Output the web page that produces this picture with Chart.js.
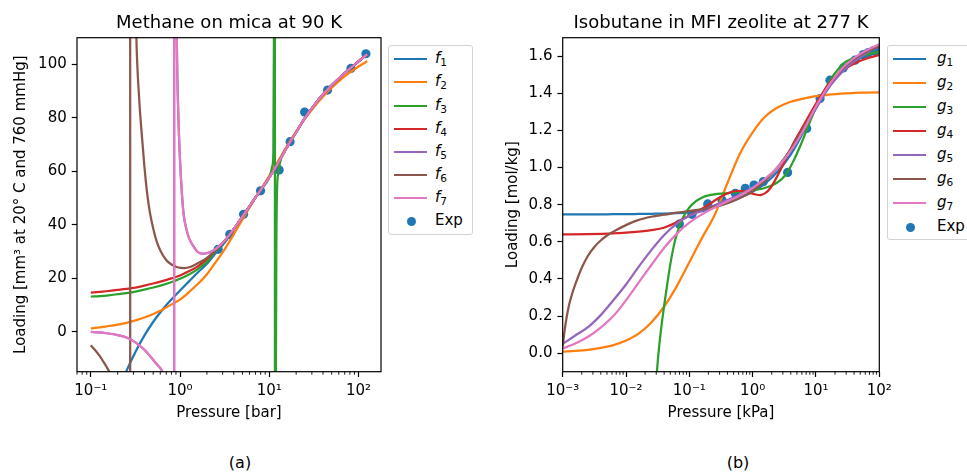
<!DOCTYPE html>
<html>
<head>
<meta charset="utf-8">
<script src="https://cdn.jsdelivr.net/npm/chart.js@4.4.1/dist/chart.umd.min.js"></script>
<style>
  body { margin: 0; background: #fff; font-family: "DejaVu Sans", sans-serif; }
  #wrap { position: relative; width: 967px; height: 473px; overflow: hidden; }
  canvas { position: absolute; top: 0; }
  .legend { position: absolute; top: 45px; border: 1px solid #d3d3d3; border-radius: 3px; background: #fff; font-size: 15px; color: #000; }
  .row { position: absolute; left: 0; height: 20px; width: 100%; }
  .h { position: absolute; left: 5px; top: 9px; width: 33px; height: 2px; }
  .m { position: absolute; left: 17.5px; top: 5.5px; width: 9px; height: 9px; border-radius: 50%; background: #1f77b4; }
  .t { position: absolute; top: -1px; line-height: 20px; white-space: nowrap; }
  .t sub { font-size: 70%; vertical-align: baseline; position: relative; top: 0.3em; }
  .cap { position: absolute; width: 100px; text-align: center; font-size: 16px; line-height: 20px; top: 453px; }
</style>
</head>
<body>
<div id="wrap">
  <canvas id="chartA" width="480" height="430" style="left:0"></canvas>
  <canvas id="chartB" width="487" height="430" style="left:480px"></canvas>
  <div class="legend" id="legA" style="left:388px;width:83px;height:188px"></div>
  <div class="legend" id="legB" style="left:887px;width:110px;height:193px"></div>
  <div class="cap" style="left:190px">(a)</div>
  <div class="cap" style="left:688px">(b)</div>
</div>
<script>
/* isotherm fits */

const COLORS = ['#1f77b4', '#ff7f0e', '#2ca02c', '#d62728', '#9467bd', '#8c564b', '#e377c2'];

// ---------- (a) methane on mica at 90 K : pressure [bar] -> loading ----------
const pGrid = [0.1, 0.126, 0.158, 0.2, 0.251, 0.316, 0.398, 0.501, 0.631, 0.794, 1, 1.26, 1.58, 2, 2.51, 3.16,
  3.98, 5.01, 6.31, 7.94, 10, 12.6, 15.8, 20, 25.1, 31.6, 39.8, 50.1, 63.1, 79.4, 100, 125];

const f1P = [0.158, 0.2, 0.251, 0.316, 0.398, 0.501, 0.631, 0.794, 1, 1.26, 1.58, 2, 2.51, 3.16, 3.98, 5.01,
  6.31, 7.94, 10, 12.6, 15.8, 20, 25.1, 31.6, 39.8, 50.1, 63.1, 79.4, 100, 125];
const f1 = [-34, -23, -14.7, -7.6, -1.5, 3.7, 8.1, 11.9, 15.4, 18.8, 22.1, 25.4, 29.4, 33.3, 38.0, 43.0,
  48.0, 52.8, 57.7, 63.2, 69.0, 74.6, 80.0, 84.6, 88.7, 92.2, 95.4, 98.3, 101.1, 103.8];

const f2 = [1.2, 1.6, 2.1, 2.6, 3.3, 4.2, 5.3, 6.6, 8.2, 10.1, 12.0, 14.8, 17.8, 21.5, 26.0, 30.8,
  36.3, 42.0, 47.6, 52.9, 58.3, 63.9, 69.5, 74.9, 79.7, 84.0, 87.9, 91.3, 94.3, 96.9, 99.2, 101.2];

const f3P = [0.1, 0.126, 0.158, 0.2, 0.251, 0.316, 0.398, 0.501, 0.631, 0.794, 1, 1.26, 1.58, 2, 2.51, 3.16,
  3.98, 5.01, 6.31, 7.94, 10, 10.5, 10.8, 11.1, 11.27, 11.4, 11.5, 11.55, 11.58, 11.65, 11.75, 11.86, 11.99,
  12.2, 12.6, 13.2, 14.0, 15.8, 20, 25.1, 31.6, 39.8, 50.1, 63.1, 79.4, 100, 125];
const f3 = [13.1, 13.3, 13.6, 14.0, 14.4, 15.0, 15.7, 16.5, 17.4, 18.5, 19.8, 21.4, 23.4, 26.2, 30.2, 33.8,
  38.3, 43.1, 48.0, 52.8, 57.7, 60.0, 62.0, 66.5, 110, 180, 400, 1200, -1200, -300, -80, -15, 30,
  52, 59.5, 63.3, 66.0, 69.0, 74.6, 80.0, 84.6, 88.7, 92.2, 95.4, 98.3, 101.1, 103.8];

const f4 = [14.6, 14.9, 15.2, 15.6, 16.0, 16.5, 17.2, 18.0, 18.9, 19.9, 21.0, 22.6, 24.4, 27.2, 30.6, 33.9,
  38.3, 43.1, 48.0, 52.8, 57.7, 63.2, 69.0, 74.6, 80.0, 84.6, 88.7, 92.2, 95.4, 98.3, 101.1, 103.8];

const f6P = [0.1, 0.112, 0.126, 0.141, 0.158, 0.178, 0.2, 0.224, 0.251, 0.263, 0.2723, 0.2758, 0.2765, 0.2884,
  0.302, 0.324, 0.347, 0.372, 0.398, 0.427, 0.457, 0.501, 0.55, 0.603, 0.692, 0.794, 0.933, 1.12, 1.32, 1.58,
  2, 2.51, 3.16, 3.98, 5.01, 6.31, 7.94, 10, 12.6, 15.8, 20, 25.1, 31.6, 39.8, 50.1, 63.1, 79.4, 100, 125];
const f6 = [-5.1, -7.0, -9.2, -11.7, -14.5, -18, -22.5, -32, -62, -125, -450, -3000, 3000, 313,
  169, 110, 88, 74, 62, 52, 45, 38.5, 33.5, 30.3, 27.0, 25.2, 24.1, 23.8, 24.3, 25.6,
  27.6, 30.6, 33.9, 38.3, 43.1, 48.0, 52.8, 57.7, 63.2, 69.0, 74.6, 80.0, 84.6, 88.7, 92.2, 95.4, 98.3, 101.1, 103.8];

const f7P = [0.1, 0.126, 0.158, 0.2, 0.251, 0.316, 0.398, 0.501, 0.562, 0.631, 0.708, 0.794, 0.832, 0.851,
  0.858, 0.86, 0.871, 0.891, 0.92, 0.955, 1, 1.047, 1.096, 1.175, 1.26, 1.41, 1.58, 1.78, 2, 2.24, 2.51,
  3.16, 3.98, 5.01, 6.31, 7.94, 10, 12.6, 15.8, 20, 25.1, 31.6, 39.8, 50.1, 63.1, 79.4, 100, 125];
const f7 = [-0.1, -0.3, -0.7, -1.3, -2.2, -4.0, -6.8, -10.6, -12.6, -14.8, -20, -44, -100, -335,
  -2600, 5000, 447, 184, 110, 82, 64, 52, 44, 38.5, 35, 32, 29.8, 29.2, 29.4, 30.0, 31.0,
  34.0, 38.3, 43.1, 48.0, 52.8, 57.7, 63.2, 69.0, 74.6, 80.0, 84.6, 88.7, 92.2, 95.4, 98.3, 101.1, 103.8];
// f5 lies exactly under f7 in the figure
const f5P = f7P, f5 = f7;

const expAP = [2.67, 3.61, 5.15, 7.98, 12.9, 17.1, 24.9, 45.0, 82.2, 121];
const expA = [30.8, 36.4, 43.9, 52.7, 60.5, 71.1, 82.2, 90.4, 98.5, 104];

const xTicksA = [0.1, 1, 10, 100];
const xLabelsA = ['10\u207B\u00B9', '10\u2070', '10\u00B9', '10\u00B2'];
const yTicksA = [0, 20, 40, 60, 80, 100];
const yLabelsA = ['0', '20', '40', '60', '80', '100'];

// ---------- (b) isobutane in MFI zeolite at 277 K : pressure [kPa] -> loading ----------
const gGrid = [0.001, 0.00158, 0.00251, 0.00398, 0.00631, 0.01, 0.0158, 0.0251, 0.0398, 0.0631, 0.1, 0.158,
  0.251, 0.398, 0.631, 1, 1.58, 2.51, 3.98, 6.31, 10, 15.8, 25.1, 39.8, 63.1, 100];

const g1 = [0.748, 0.748, 0.748, 0.748, 0.749, 0.749, 0.750, 0.751, 0.752, 0.754, 0.758, 0.765,
  0.786, 0.81, 0.838, 0.87, 0.915, 0.98, 1.07, 1.19, 1.32, 1.43, 1.515, 1.57, 1.607, 1.632];
const g2 = [0.008, 0.012, 0.018, 0.028, 0.043, 0.068, 0.105, 0.165, 0.25, 0.36, 0.49, 0.62,
  0.745, 0.915, 1.076, 1.19, 1.275, 1.325, 1.355, 1.372, 1.385, 1.393, 1.399, 1.402, 1.404, 1.406];

const g3P = [0.0158, 0.0224, 0.0282, 0.0316, 0.0355, 0.0398, 0.0447, 0.0501, 0.0562, 0.0631, 0.0794, 0.1,
  0.126, 0.158, 0.2, 0.251, 0.355, 0.501, 0.708, 1, 1.41, 2, 2.82, 3.55, 4.47, 5.62, 7.08, 8.91, 11.2,
  14.1, 17.8, 22.4, 28.2, 39.8, 63.1, 100];
const g3 = [-3, -1.0, -0.3, -0.05, 0.12, 0.25, 0.37, 0.48, 0.57, 0.64, 0.73, 0.785,
  0.818, 0.838, 0.850, 0.856, 0.861, 0.866, 0.872, 0.877, 0.886, 0.903, 0.935, 0.975, 1.04, 1.115, 1.20, 1.285, 1.355,
  1.425, 1.485, 1.53, 1.565, 1.59, 1.61, 1.624];

const g4P = [0.001, 0.00251, 0.00631, 0.0126, 0.0251, 0.0398, 0.0631, 0.1, 0.141, 0.2, 0.282, 0.398, 0.562,
  0.708, 0.891, 1.12, 1.32, 1.58, 1.91, 2.29, 2.82, 3.55, 4.47, 6.31, 8.91, 11.5, 15.8, 21.4, 28.2, 39.8, 63.1, 100];
const g4 = [0.640, 0.641, 0.645, 0.652, 0.663, 0.676, 0.705, 0.742, 0.768, 0.80, 0.833, 0.860, 0.874,
  0.873, 0.864, 0.855, 0.852, 0.862, 0.89, 0.935, 0.995, 1.065, 1.135, 1.225, 1.315, 1.378, 1.45, 1.497, 1.53, 1.56, 1.588, 1.607];

const g5 = [0.05, 0.095, 0.14, 0.205, 0.285, 0.37, 0.465, 0.555, 0.635, 0.698, 0.74, 0.768,
  0.797, 0.825, 0.855, 0.89, 0.935, 1.0, 1.09, 1.2, 1.32, 1.43, 1.51, 1.572, 1.618, 1.655];

const g6P = [0.001, 0.00107, 0.00115, 0.00126, 0.00141, 0.00158, 0.002, 0.00251, 0.00316, 0.00398, 0.00501,
  0.00631, 0.01, 0.0158, 0.0251, 0.0398, 0.0631, 0.1, 0.158, 0.251, 0.398, 0.631, 1, 1.58, 2.51, 3.98, 6.31,
  10, 15.8, 25.1, 39.8, 63.1, 100];
const g6 = [0.035, 0.12, 0.19, 0.26, 0.32, 0.37, 0.46, 0.525, 0.572, 0.607, 0.634,
  0.655, 0.69, 0.718, 0.735, 0.746, 0.757, 0.766, 0.776, 0.79, 0.808, 0.836, 0.875, 0.93, 1.005, 1.1, 1.21,
  1.33, 1.44, 1.525, 1.585, 1.625, 1.655];

const g7 = [0.025, 0.052, 0.088, 0.138, 0.2, 0.285, 0.38, 0.475, 0.567, 0.643, 0.703, 0.748,
  0.785, 0.818, 0.85, 0.89, 0.94, 1.005, 1.09, 1.2, 1.33, 1.44, 1.53, 1.59, 1.632, 1.665];

const expBP = [0.0695, 0.110, 0.195, 0.328, 0.532, 0.765, 1.05, 1.47, 3.57, 7.13, 11.6, 16.6, 27.0, 41.3, 56.0, 67, 80, 93];
const expB = [0.696, 0.748, 0.804, 0.825, 0.861, 0.888, 0.906, 0.924, 0.974, 1.211, 1.372, 1.471, 1.537, 1.579, 1.609, 1.62, 1.629, 1.632];

const xTicksB = [0.001, 0.01, 0.1, 1, 10, 100];
const xLabelsB = ['10\u207B\u00B3', '10\u207B\u00B2', '10\u207B\u00B9', '10\u2070', '10\u00B9', '10\u00B2'];
const yTicksB = [0, 0.2, 0.4, 0.6, 0.8, 1.0, 1.2, 1.4, 1.6];
const yLabelsB = ['0.0', '0.2', '0.4', '0.6', '0.8', '1.0', '1.2', '1.4', '1.6'];


Chart.defaults.font.family = '"DejaVu Sans", sans-serif';
Chart.defaults.color = '#000';

// box around the axes + short minor ticks on the log axis
const frameAndMinor = {
  id: 'frameAndMinor',
  afterDraw(chart) {
    const ctx = chart.ctx, a = chart.chartArea, xs = chart.scales.x;
    ctx.save();
    ctx.strokeStyle = '#000';
    ctx.lineWidth = 0.9;
    for (let e = -4; e <= 2; e++) {
      for (let m = 2; m <= 9; m++) {
        const px = xs.getPixelForValue(m * Math.pow(10, e));
        if (px < a.left || px > a.right) continue;
        ctx.beginPath();
        ctx.moveTo(px, a.bottom);
        ctx.lineTo(px, a.bottom + 3);
        ctx.stroke();
      }
    }
    ctx.lineWidth = 1.2;
    ctx.strokeRect(a.left, a.top, a.right - a.left, a.bottom - a.top);
    ctx.restore();
  }
};

function lineSet(label, P, Y, i) {
  return {
    label: label,
    data: P.map((p, k) => ({ x: p, y: Y[k] })),
    borderColor: COLORS[i],
    borderWidth: 2.25,
    pointRadius: 0,
    fill: false,
    cubicInterpolationMode: 'monotone',
    capBezierPoints: false,
    clip: 0,
    order: 10 - i
  };
}

function expSet(P, Y) {
  return {
    label: 'Exp',
    data: P.map((p, k) => ({ x: p, y: Y[k] })),
    showLine: false,
    pointRadius: 4.6,
    pointHoverRadius: 4.6,
    pointBackgroundColor: '#1f77b4',
    pointBorderWidth: 0,
    borderColor: '#1f77b4',
    clip: 0,
    order: 20
  };
}

function buildChart(id, o) {
  return new Chart(document.getElementById(id), {
    type: 'line',
    data: { datasets: o.datasets },
    options: {
      responsive: false,
      animation: false,
      devicePixelRatio: 1,
      layout: { padding: { left: 0, right: o.padRight, top: 0, bottom: 0 } },
      plugins: {
        legend: { display: false },
        tooltip: { enabled: false },
        title: {
          display: true, text: o.title, fullSize: false, color: '#000',
          font: { size: 18, weight: 'normal' },
          padding: { top: 12.5, bottom: 3.6 }
        }
      },
      scales: {
        x: {
          type: 'logarithmic', min: o.xMin, max: o.xMax,
          afterBuildTicks: s => { s.ticks = o.xTicks.map(v => ({ value: v })); },
          afterFit: s => { s.height = 58.3; },
          ticks: { callback: (v, i) => o.xLabels[i], autoSkip: false, maxRotation: 0, padding: 5, font: { size: 15 } },
          grid: { drawOnChartArea: false, drawTicks: true, tickLength: 5.25, tickWidth: 1.2, tickColor: '#000' },
          border: { display: false },
          title: { display: true, text: o.xTitle, font: { size: 15 }, padding: { top: 0, bottom: 8.2 } }
        },
        y: {
          type: 'linear', min: o.yMin, max: o.yMax,
          afterBuildTicks: s => { s.ticks = o.yTicks.map(v => ({ value: v })); },
          afterFit: s => { s.width = o.yWidth; },
          ticks: { callback: (v, i) => o.yLabels[i], autoSkip: false, padding: 5, font: { size: 15 } },
          grid: { drawOnChartArea: false, drawTicks: true, tickLength: 5.25, tickWidth: 1.2, tickColor: '#000' },
          border: { display: false },
          title: { display: true, text: o.yTitle, font: { size: 15 }, padding: { top: o.yTitlePad, bottom: 0 } }
        }
      }
    },
    plugins: [frameAndMinor]
  });
}

buildChart('chartA', {
  title: 'Methane on mica at 90 K',
  xTitle: 'Pressure [bar]',
  yTitle: 'Loading [mm\u00B3 at 20\u00B0 C and 760 mmHg]',
  xMin: 0.07, xMax: 178.6, yMin: -15, yMax: 110,
  xTicks: xTicksA, xLabels: xLabelsA, yTicks: yTicksA, yLabels: yLabelsA,
  yWidth: 77, yTitlePad: 11.7, padRight: 99,
  datasets: [
    lineSet('f1', f1P, f1, 0),
    lineSet('f2', pGrid, f2, 1),
    lineSet('f3', f3P, f3, 2),
    lineSet('f4', pGrid, f4, 3),
    lineSet('f5', f5P, f5, 4),
    lineSet('f6', f6P, f6, 5),
    lineSet('f7', f7P, f7, 6),
    expSet(expAP, expA)
  ]
});

buildChart('chartB', {
  title: 'Isobutane in MFI zeolite at 277 K',
  xTitle: 'Pressure [kPa]',
  yTitle: 'Loading [mol/kg]',
  xMin: 0.001, xMax: 100, yMin: -0.1, yMax: 1.7,
  xTicks: xTicksB, xLabels: xLabelsB, yTicks: yTicksB, yLabels: yLabelsB,
  yWidth: 82.7, yTitlePad: 24.3, padRight: 87.7,
  datasets: [
    lineSet('g1', gGrid, g1, 0),
    lineSet('g2', gGrid, g2, 1),
    lineSet('g3', g3P, g3, 2),
    lineSet('g4', g4P, g4, 3),
    lineSet('g5', gGrid, g5, 4),
    lineSet('g6', g6P, g6, 5),
    lineSet('g7', gGrid, g7, 6),
    expSet(expBP, expB)
  ]
});

// legends (html, so the italic symbol + subscript look right)
function buildLegend(id, letter, spacing, textLeft) {
  let html = '';
  for (let i = 0; i < 7; i++) {
    html += '<div class="row" style="top:' + Math.round(3.3 + i * spacing) + 'px">' +
      '<span class="h" style="background:' + COLORS[i] + '"></span>' +
      '<span class="t" style="left:' + textLeft + 'px"><i>' + letter + '</i><sub>' + (i + 1) + '</sub></span></div>';
  }
  html += '<div class="row" style="top:' + Math.round(3.3 + 7 * spacing) + 'px"><span class="m"></span>' +
    '<span class="t" style="left:' + textLeft + 'px">Exp</span></div>';
  document.getElementById(id).innerHTML = html;
}
buildLegend('legA', 'f', 23.1, 46);
buildLegend('legB', 'g', 24.0, 49);
</script>
</body>
</html>
